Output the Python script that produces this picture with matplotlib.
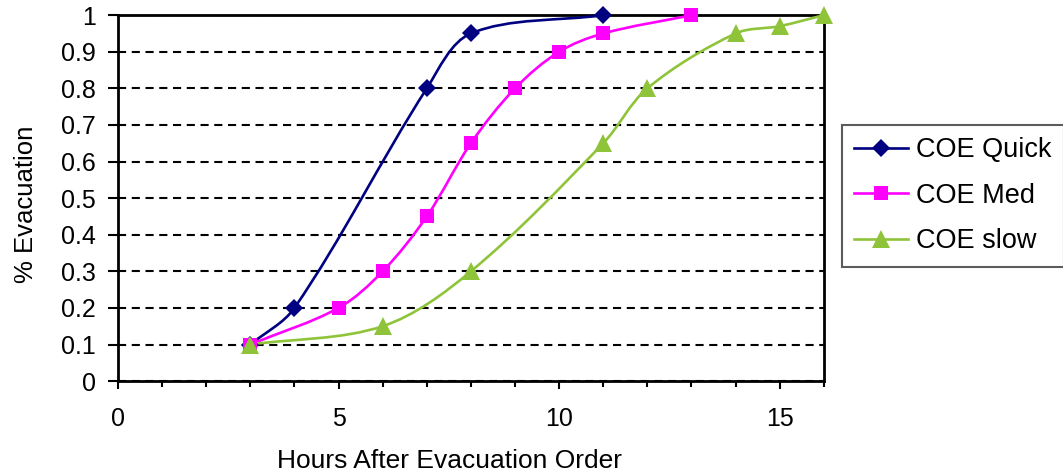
"""
疏散进度曲线: 三种 COE 情景下撤离比例随时间的变化
"""

import numpy as np
import matplotlib.pyplot as plt
from matplotlib.path import Path
from matplotlib.patches import PathPatch
from matplotlib.lines import Line2D

plt.rcParams['font.family'] = ['Liberation Sans', 'DejaVu Sans']

# 各情景的数据点 (小时, 撤离比例)
quick_hours = [3, 4, 7, 8, 11]
quick_frac = [0.1, 0.2, 0.8, 0.95, 1.0]

med_hours = [3, 5, 6, 7, 8, 9, 10, 11, 13]
med_frac = [0.1, 0.2, 0.3, 0.45, 0.65, 0.8, 0.9, 0.95, 1.0]

slow_hours = [3, 6, 8, 11, 12, 14, 15, 16]
slow_frac = [0.1, 0.15, 0.3, 0.65, 0.8, 0.95, 0.97, 1.0]

series_names = ['COE Quick', 'COE Med', 'COE slow']
x_major = [0, 5, 10, 15]
y_ticks = [0, 0.1, 0.2, 0.3, 0.4, 0.5, 0.6, 0.7, 0.8, 0.9, 1]


def smooth_path(ax, xs, ys, k=1/3):
    """类似 Excel 平滑线: 分段三次贝塞尔, 控制柄按相邻线段长度分配"""
    to_disp = ax.transData
    pts = to_disp.transform(np.column_stack([xs, ys]))
    n = len(pts)
    verts = [pts[0]]
    codes = [Path.MOVETO]
    h_in = [np.zeros(2)] * n
    h_out = [np.zeros(2)] * n
    for i in range(n):
        prev_p = pts[max(i - 1, 0)]
        next_p = pts[min(i + 1, n - 1)]
        t = next_p - prev_p
        d_in = np.hypot(*(pts[i] - prev_p))
        d_out = np.hypot(*(next_p - pts[i]))
        tot = d_in + d_out
        if tot == 0:
            continue
        h_in[i] = t * d_in / tot * k
        h_out[i] = t * d_out / tot * k
    for i in range(n - 1):
        verts += [pts[i] + h_out[i], pts[i + 1] - h_in[i + 1], pts[i + 1]]
        codes += [Path.CURVE4] * 3
    verts = to_disp.inverted().transform(np.array(verts))
    return Path(verts, codes)


def main():
    fig = plt.figure(figsize=(10.63, 4.74), dpi=100)
    ax = fig.add_axes([0.111, 0.196, 0.664, 0.772])
    ax.set_xlim(0, 16)
    ax.set_ylim(0, 1)

    series = [
        (quick_hours, quick_frac, '#000080', 'D', 9.5),
        (med_hours, med_frac, '#ff00ff', 's', 10.5),
        (slow_hours, slow_frac, '#8fc43a', '^', 13),
    ]

    handles = []
    for (xs, ys, color, marker, ms), name in zip(series, series_names):
        path = smooth_path(ax, xs, ys)
        ax.add_patch(PathPatch(path, fill=False, edgecolor=color, lw=1.9,
                               clip_on=False, zorder=3))
        ax.plot(xs, ys, linestyle='none', marker=marker, ms=ms, color=color,
                markeredgewidth=0, clip_on=False, zorder=4)
        handles.append(Line2D([], [], color=color, lw=1.9, marker=marker,
                              ms=ms, markeredgewidth=0, label=name))

    # 坐标轴与刻度
    ax.set_xticks(x_major)
    ax.set_xticks(range(0, 17), minor=True)
    ax.set_yticks(y_ticks)
    ax.set_yticklabels(['0', '0.1', '0.2', '0.3', '0.4', '0.5',
                        '0.6', '0.7', '0.8', '0.9', '1'])
    ax.tick_params(axis='y', which='major', direction='out', length=7,
                   width=1.5, labelsize=18, pad=9, color='black')
    ax.tick_params(axis='x', which='major', direction='out', length=5.5,
                   width=1.5, labelsize=18, pad=13)
    ax.tick_params(axis='x', which='minor', direction='out', length=4,
                   width=1.5)
    for sp in ax.spines.values():
        sp.set_linewidth(2)
        sp.set_color('black')

    ax.yaxis.grid(True, color='black', linestyle=(0, (3.9, 2.7)), lw=1.5)
    ax.set_axisbelow(True)

    ax.set_xlabel('Hours After Evacuation Order', fontsize=19)
    ax.xaxis.set_label_coords(0.47, -0.186)
    ax.set_ylabel('% Evacuation', fontsize=18.5)
    ax.yaxis.set_label_coords(-0.114, 0.482)

    leg = fig.legend(handles=handles, loc='upper left',
                     bbox_to_anchor=(0.792, 0.736), fontsize=19.5,
                     frameon=True, fancybox=False, shadow=False,
                     handlelength=2.0, handletextpad=0.3, labelspacing=0.72,
                     borderpad=0.45, borderaxespad=0)
    leg.get_frame().set_edgecolor('#333333')
    leg.get_frame().set_linewidth(1.5)

    fig.savefig('out.png', dpi=100)
    plt.close(fig)


if __name__ == "__main__":
    main()
